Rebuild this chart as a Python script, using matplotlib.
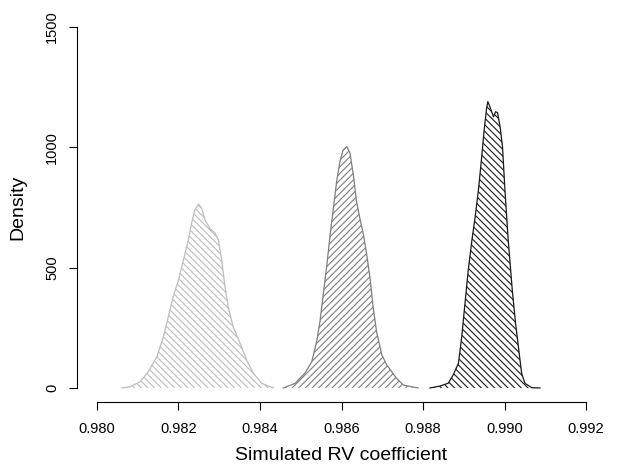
import matplotlib
matplotlib.use("Agg")
import matplotlib.pyplot as plt

# Density curves (x = RV coefficient, y = density)
light_x = [0.98061, 0.98081, 0.98106, 0.98126, 0.98147, 0.98163, 0.98175, 0.98187,
           0.98200, 0.98212, 0.98224, 0.98232, 0.98240, 0.98249, 0.98257, 0.98265,
           0.98277, 0.98290, 0.98298, 0.98306, 0.98314, 0.98322, 0.98334, 0.98351,
           0.98367, 0.98384, 0.98404, 0.98433]
light_y = [0, 5, 26, 68, 130, 213, 296, 379, 449, 532, 615, 684, 740, 764, 746, 698,
           663, 643, 615, 532, 421, 338, 255, 186, 116, 61, 19, 0]

mid_x = [0.98457, 0.98486, 0.98510, 0.98527, 0.98539, 0.98547, 0.98555, 0.98564,
         0.98572, 0.98580, 0.98588, 0.98596, 0.98604, 0.98613, 0.98621, 0.98629,
         0.98637, 0.98645, 0.98654, 0.98662, 0.98670, 0.98678, 0.98686, 0.98699,
         0.98711, 0.98723, 0.98735, 0.98752, 0.98772, 0.98788]
mid_y = [0, 19, 61, 109, 192, 275, 386, 511, 636, 746, 857, 940, 989, 1003, 975, 885,
         774, 705, 636, 553, 456, 331, 234, 137, 96, 68, 40, 12, 5, 0]

dark_x = [0.98817, 0.98842, 0.98862, 0.98874, 0.98887, 0.98895, 0.98903, 0.98911,
          0.98920, 0.98928, 0.98936, 0.98944, 0.98950, 0.98956, 0.98959, 0.98964,
          0.98973, 0.98978, 0.98983, 0.98989, 0.98995, 0.99001, 0.99009, 0.99019,
          0.99027, 0.99036, 0.99042, 0.99050, 0.99067, 0.99087]
dark_y = [0, 8, 20, 54, 103, 213, 352, 490, 615, 712, 823, 961, 1072, 1162, 1190, 1169,
          1127, 1148, 1144, 1086, 1003, 823, 615, 407, 269, 144, 61, 19, 1, 0]

x_ticks = [0.980, 0.982, 0.984, 0.986, 0.988, 0.990, 0.992]
y_ticks = [0, 500, 1000, 1500]

plt.rcParams["font.family"] = ["Liberation Sans", "DejaVu Sans"]
plt.rcParams["hatch.linewidth"] = 0.8

fig = plt.figure(figsize=(6.29, 4.66), dpi=100)
ax = fig.add_axes([0.1231, 0.1365, 0.8397, 0.8365])

# each curve: hatched area + outline, like R polygon(density=..., angle=...)
series = [
    (light_x, light_y, "#bdbdbd", "\\" * 5),
    (mid_x, mid_y, "#7f7f7f", "/" * 5),
    (dark_x, dark_y, "#1a1a1a", "\\" * 5),
]
for xs, ys, col, hatch in series:
    ax.fill_between(xs, ys, 0, facecolor="none", edgecolor=col, linewidth=0, hatch=hatch)
    ax.plot(xs, ys, color=col, linewidth=0.9)

# R-style axes: 4% padding, no box, axis lines only over the tick range
ax.set_xlim(0.980 - 0.00048, 0.992 + 0.00048)
ax.set_ylim(-60, 1560)
for s in ["top", "right"]:
    ax.spines[s].set_visible(False)
ax.spines["left"].set_bounds(0, 1500)
ax.spines["bottom"].set_bounds(0.980, 0.992)
ax.spines["left"].set_linewidth(0.8)
ax.spines["bottom"].set_linewidth(0.8)

ax.set_xticks(x_ticks)
ax.set_xticklabels(["%.3f" % t for t in x_ticks])
ax.set_yticks(y_ticks)
ax.set_yticklabels([str(t) for t in y_ticks], rotation=90, va="center")
ax.tick_params(axis="both", length=6, width=0.8, labelsize=10.5)
ax.tick_params(axis="x", pad=8)
ax.tick_params(axis="y", pad=7)

ax.set_xlabel("Simulated RV coefficient", fontsize=14, labelpad=8)
ax.set_ylabel("Density", fontsize=14, labelpad=14)

fig.savefig("out.png", dpi=100)
